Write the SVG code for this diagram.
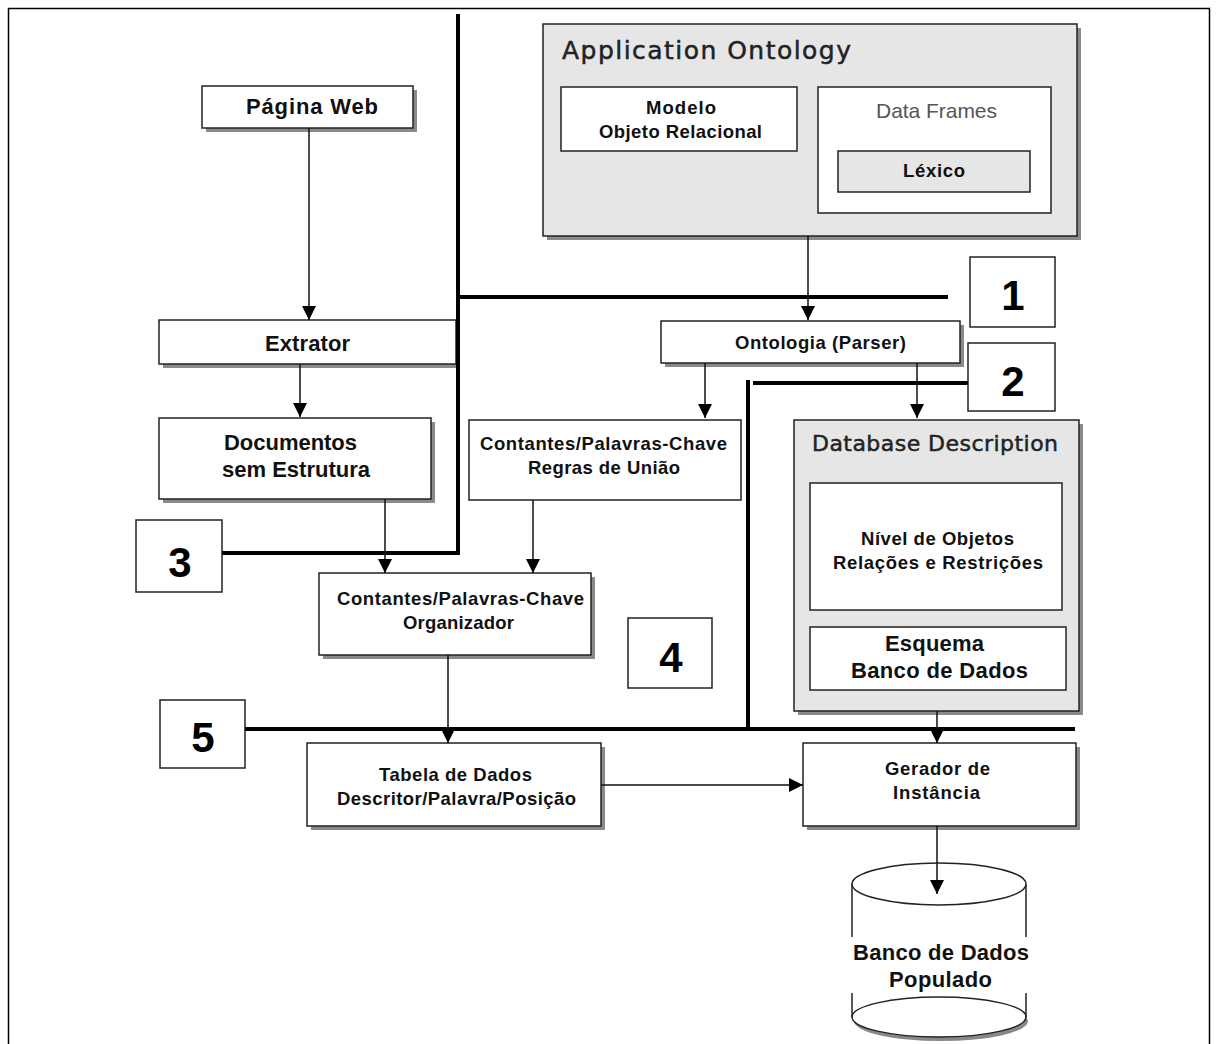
<svg xmlns="http://www.w3.org/2000/svg" width="1217" height="1044" viewBox="0 0 1217 1044">
<defs>
<style>
.box{fill:#fff;stroke:#222;stroke-width:1.5}
.gbox{fill:#e6e6e6;stroke:#222;stroke-width:1.5}
.sh{fill:#8a8a8a}
.t{font-family:"Liberation Sans",Arial,sans-serif;font-weight:bold;fill:#111}
.s{font-size:18.5px}
.l{font-size:22px}
.h{font-family:"DejaVu Sans","Liberation Sans",sans-serif;fill:#222;stroke:#222;stroke-width:0.5}
.thin{stroke:#111;stroke-width:1.5;fill:none}
.thick{stroke:#000;stroke-width:4;fill:none}
.num{font-family:"Liberation Sans",Arial,sans-serif;font-weight:bold;font-size:42px;fill:#000;text-anchor:middle}
</style>
<marker id="ah" markerWidth="16" markerHeight="16" refX="14" refY="8" orient="auto" markerUnits="userSpaceOnUse">
<path d="M0,1 L14,8 L0,15 Z" fill="#000"/>
</marker>
</defs>
<rect width="1217" height="1044" fill="#fff"/>
<rect x="8.5" y="8.5" width="1201" height="1045" fill="none" stroke="#000" stroke-width="1.5"/>

<g id="app-ontology">
<rect class="sh" x="547" y="28" width="534" height="212"/>
<rect class="gbox" x="543" y="24" width="534" height="212"/>
<text class="h" x="562" y="59" font-size="25" textLength="289">Application Ontology</text>
</g>
<g id="modelo">
<rect class="box" x="561" y="87" width="236" height="64"/>
<text class="t s" x="646" y="114" textLength="70">Modelo</text>
<text class="t s" x="599" y="138" textLength="163">Objeto Relacional</text>
</g>
<g id="data-frames">
<rect class="box" x="818" y="87" width="233" height="126"/>
<text x="876" y="118" font-family="Liberation Sans,Arial,sans-serif" font-size="21" fill="#555" textLength="121">Data Frames</text>
</g>
<g id="lexico">
<rect class="gbox" x="838" y="151" width="192" height="41"/>
<text class="t s" x="903" y="177" textLength="62">Léxico</text>
</g>

<g id="pagina-web">
<rect class="sh" x="206" y="90" width="211" height="42"/>
<rect class="box" x="202" y="86" width="211" height="42"/>
<text class="t l" x="246" y="114" textLength="132">Página Web</text>
</g>
<g id="extrator">
<rect class="sh" x="163" y="324" width="297" height="44"/>
<rect class="box" x="159" y="320" width="297" height="44"/>
<text class="t l" x="265" y="351" textLength="85">Extrator</text>
</g>
<g id="ontologia">
<rect class="sh" x="665" y="325" width="299" height="42"/>
<rect class="box" x="661" y="321" width="299" height="42"/>
<text class="t s" x="735" y="349" textLength="171">Ontologia (Parser)</text>
</g>
<g id="n1">
<rect class="box" x="970" y="257" width="85" height="70"/>
<text class="num" x="1013" y="310">1</text>
</g>
<g id="n2">
<rect class="box" x="968" y="343" width="87" height="68"/>
<text class="num" x="1013" y="396">2</text>
</g>
<g id="documentos">
<rect class="sh" x="163" y="422" width="272" height="81"/>
<rect class="box" x="159" y="418" width="272" height="81"/>
<text class="t l" x="224" y="450" textLength="133">Documentos</text>
<text class="t l" x="222" y="477" textLength="148">sem Estrutura</text>
</g>
<g id="regras">
<rect class="box" x="469" y="420" width="272" height="80"/>
<text class="t s" x="480" y="450" textLength="247">Contantes/Palavras-Chave</text>
<text class="t s" x="528" y="474" textLength="152">Regras de União</text>
</g>
<g id="n3">
<rect class="box" x="136" y="520" width="86" height="72"/>
<text class="num" x="180" y="577">3</text>
</g>
<g id="organizador">
<rect class="sh" x="323" y="577" width="272" height="82"/>
<rect class="box" x="319" y="573" width="272" height="82"/>
<text class="t s" x="337" y="605" textLength="247">Contantes/Palavras-Chave</text>
<text class="t s" x="403" y="629" textLength="111">Organizador</text>
</g>
<g id="n4">
<rect class="box" x="628" y="618" width="84" height="70"/>
<text class="num" x="671" y="672">4</text>
</g>
<g id="n5">
<rect class="box" x="160" y="700" width="85" height="68"/>
<text class="num" x="203" y="752">5</text>
</g>
<g id="db-description">
<rect class="sh" x="798" y="424" width="285" height="291"/>
<rect class="gbox" x="794" y="420" width="285" height="291"/>
<text class="h" x="812" y="451" font-size="22" textLength="246">Database Description</text>
</g>
<g id="nivel">
<rect class="box" x="810" y="483" width="252" height="127"/>
<text class="t s" x="861" y="545" textLength="153">Nível de Objetos</text>
<text class="t s" x="833" y="569" textLength="210">Relações e Restrições</text>
</g>
<g id="esquema">
<rect class="box" x="810" y="627" width="256" height="63"/>
<text class="t l" x="885" y="651" textLength="99">Esquema</text>
<text class="t l" x="851" y="678" textLength="177">Banco de Dados</text>
</g>
<g id="tabela">
<rect class="sh" x="311" y="747" width="294" height="83"/>
<rect class="box" x="307" y="743" width="294" height="83"/>
<text class="t s" x="379" y="781" textLength="153">Tabela de Dados</text>
<text class="t s" x="337" y="805" textLength="239">Descritor/Palavra/Posição</text>
</g>
<g id="gerador">
<rect class="sh" x="807" y="747" width="273" height="83"/>
<rect class="box" x="803" y="743" width="273" height="83"/>
<text class="t s" x="885" y="775" textLength="105">Gerador de</text>
<text class="t s" x="893" y="799" textLength="87">Instância</text>
</g>
<g id="banco">
<ellipse cx="941" cy="1021" rx="87" ry="20" fill="#888"/>
<ellipse cx="939" cy="1017" rx="87" ry="20" fill="#fff" stroke="#222" stroke-width="1.5"/>
<line x1="852" y1="884" x2="852" y2="1017" stroke="#222" stroke-width="1.5"/>
<line x1="1026" y1="884" x2="1026" y2="1017" stroke="#222" stroke-width="1.5"/>
<ellipse cx="939" cy="884" rx="87" ry="21" fill="#fff" stroke="#222" stroke-width="1.5"/>
<rect x="845" y="937" width="190" height="56" fill="#fff"/>
<text class="t l" x="853" y="960" textLength="176">Banco de Dados</text>
<text class="t l" x="889" y="987" textLength="103">Populado</text>
</g>

<g id="connectors">
<path class="thick" d="M458,14 V555 M458,297 H948 M222,553 H458"/>
<path class="thick" d="M968,383 H753 M748,380 V729 M245,729 H1075"/>
<line class="thin" x1="808" y1="236" x2="808" y2="320" marker-end="url(#ah)"/>
<line class="thin" x1="309" y1="128" x2="309" y2="320" marker-end="url(#ah)"/>
<line class="thin" x1="300" y1="364" x2="300" y2="417" marker-end="url(#ah)"/>
<line class="thin" x1="705" y1="363" x2="705" y2="418" marker-end="url(#ah)"/>
<line class="thin" x1="917" y1="363" x2="917" y2="418" marker-end="url(#ah)"/>
<line class="thin" x1="385" y1="499" x2="385" y2="573" marker-end="url(#ah)"/>
<line class="thin" x1="533" y1="500" x2="533" y2="573" marker-end="url(#ah)"/>
<line class="thin" x1="448" y1="655" x2="448" y2="743" marker-end="url(#ah)"/>
<line class="thin" x1="937" y1="711" x2="937" y2="743" marker-end="url(#ah)"/>
<line class="thin" x1="601" y1="785" x2="803" y2="785" marker-end="url(#ah)"/>
<line class="thin" x1="937" y1="826" x2="937" y2="894" marker-end="url(#ah)"/>
</g>
</svg>
